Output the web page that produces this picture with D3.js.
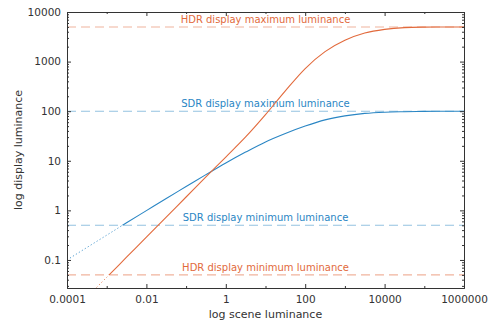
<!DOCTYPE html>
<html><head><meta charset="utf-8">
<script src="https://cdn.jsdelivr.net/npm/d3@7"></script>
<style>body{margin:0;background:#fff;} text{font-family:"DejaVu Sans",sans-serif;}</style>
</head><body><svg id="c" width="490" height="323"></svg>
<script>
// scene luminance samples (half-decade steps)
const sceneLum = [1e-4,3.16e-4,1e-3,3.16e-3,1e-2,3.16e-2,1e-1,3.16e-1,1,3.16,10,31.6,100,316,1000,3160,1e4,3.16e4,1e5,3.16e5,1e6];
const sdrVals = [0.1,0.178,0.316,0.562,0.989,1.74,3.02,5.25,9.02,14.96,24.0,35.5,50.1,66.8,80.4,90.2,95.5,97.7,99.1,99.8,99.95];
const hdrVals = [0.00701,0.0178,0.0447,0.1135,0.288,0.733,1.86,4.73,11.9,30.2,85.1,257,724,1585,2690,3758,4467,4842,4955,4989,4995];
const refLevels = [
  {label:"HDR display maximum luminance", value:5000, series:"hdr"},
  {label:"SDR display maximum luminance", value:100, series:"sdr"},
  {label:"SDR display minimum luminance", value:0.5, series:"sdr"},
  {label:"HDR display minimum luminance", value:0.05, series:"hdr"}
];
const seriesMin = {sdr:0.5, hdr:0.05};
const xTicks = [1e-4,1e-2,1,100,1e4,1e6];
const xTickLabels = ["0.0001","0.01","1","100","10000","1000000"];
const yTicks = [0.1,1,10,100,1000,10000];
const yTickLabels = ["0.1","1","10","100","1000","10000"];
const xDomain = [1e-4,1e6];
const yDomain = [0.0272,10000];

(function(){
const colors = {sdr:"#2a86c4", hdr:"#e26a3c"};
const W=490,H=323, m={l:67,r:26,t:12,b:35};
const svg = d3.select("#c");
const x = d3.scaleLog().domain(xDomain).range([m.l, W-m.r]);
const y = d3.scaleLog().domain(yDomain).range([H-m.b, m.t]);
const pw = W-m.l-m.r, ph = H-m.t-m.b;

const defs = svg.append("defs");
defs.append("clipPath").attr("id","plot").append("rect").attr("x",m.l).attr("y",m.t).attr("width",pw).attr("height",ph);
["sdr","hdr"].forEach(s=>{
  defs.append("clipPath").attr("id","above-"+s).append("rect")
    .attr("x",m.l).attr("y",m.t).attr("width",pw).attr("height",y(seriesMin[s])-m.t);
  defs.append("clipPath").attr("id","below-"+s).append("rect")
    .attr("x",m.l).attr("y",y(seriesMin[s])).attr("width",pw).attr("height",H-m.b-y(seriesMin[s]));
});

// reference dashed lines + labels
const g = svg.append("g").attr("clip-path","url(#plot)");
refLevels.forEach(r=>{
  g.append("line").attr("x1",m.l).attr("x2",W-m.r).attr("y1",y(r.value)).attr("y2",y(r.value))
    .attr("stroke",colors[r.series]).attr("stroke-opacity",0.5).attr("stroke-width",1.1).attr("stroke-dasharray","9,5");
  svg.append("text").attr("x",m.l+pw/2).attr("y",y(r.value)-4).attr("text-anchor","middle")
    .attr("font-size",10).attr("fill",colors[r.series]).text(r.label);
});

// curves
const line = d3.line().x(d=>x(d[0])).y(d=>y(d[1])).curve(d3.curveMonotoneX);
const series = {sdr: sceneLum.map((v,i)=>[v,sdrVals[i]]), hdr: sceneLum.map((v,i)=>[v,hdrVals[i]])};
["sdr","hdr"].forEach(s=>{
  svg.append("g").attr("clip-path","url(#above-"+s+")").append("path").datum(series[s])
    .attr("d",line).attr("fill","none").attr("stroke",colors[s]).attr("stroke-width",1.1);
  svg.append("g").attr("clip-path","url(#below-"+s+")").append("path").datum(series[s])
    .attr("d",line).attr("fill","none").attr("stroke",colors[s]).attr("stroke-width",1).attr("stroke-dasharray","1,2.5");
});

// axes (ticks inward, box)
const axCol="#333";
const xMinor = x.ticks().filter(t=>!xTicks.some(v=>Math.abs(v-t)/v<1e-9));
const yMinor = y.ticks().filter(t=>!yTicks.some(v=>Math.abs(v-t)/v<1e-9));
svg.append("g").attr("transform",`translate(0,${H-m.b})`)
  .call(d3.axisBottom(x).tickValues(xTicks).tickFormat((d,i)=>xTickLabels[i]).tickSizeInner(-4).tickSizeOuter(0).tickPadding(8));
svg.append("g").attr("transform",`translate(0,${m.t})`)
  .call(d3.axisTop(x).tickValues(xTicks).tickFormat("").tickSizeInner(-4).tickSizeOuter(0));
svg.append("g").attr("transform",`translate(${m.l},0)`)
  .call(d3.axisLeft(y).tickValues(yTicks).tickFormat((d,i)=>yTickLabels[i]).tickSizeInner(-4).tickSizeOuter(0).tickPadding(6));
svg.append("g").attr("transform",`translate(${W-m.r},0)`)
  .call(d3.axisRight(y).tickValues(yTicks).tickFormat("").tickSizeInner(-4).tickSizeOuter(0));
svg.append("g").attr("transform",`translate(0,${H-m.b})`).call(d3.axisBottom(x).tickValues(xMinor).tickFormat("").tickSizeInner(-2).tickSizeOuter(0));
svg.append("g").attr("transform",`translate(0,${m.t})`).call(d3.axisTop(x).tickValues(xMinor).tickFormat("").tickSizeInner(-2).tickSizeOuter(0));
svg.append("g").attr("transform",`translate(${m.l},0)`).call(d3.axisLeft(y).tickValues(yMinor).tickFormat("").tickSizeInner(-2).tickSizeOuter(0));
svg.append("g").attr("transform",`translate(${W-m.r},0)`).call(d3.axisRight(y).tickValues(yMinor).tickFormat("").tickSizeInner(-2).tickSizeOuter(0));
svg.selectAll(".domain").attr("stroke",axCol);
svg.selectAll(".tick line").attr("stroke",axCol);
svg.selectAll(".tick text").attr("fill","#333").attr("font-size",10.5).attr("font-family","DejaVu Sans, sans-serif");

svg.append("text").attr("x",m.l+pw/2).attr("y",318).attr("text-anchor","middle").attr("font-size",11).attr("fill","#333").text("log scene luminance");
svg.append("text").attr("transform",`translate(22,${m.t+ph/2}) rotate(-90)`).attr("text-anchor","middle").attr("font-size",11).attr("fill","#333").text("log display luminance");
})();
</script></body></html>
